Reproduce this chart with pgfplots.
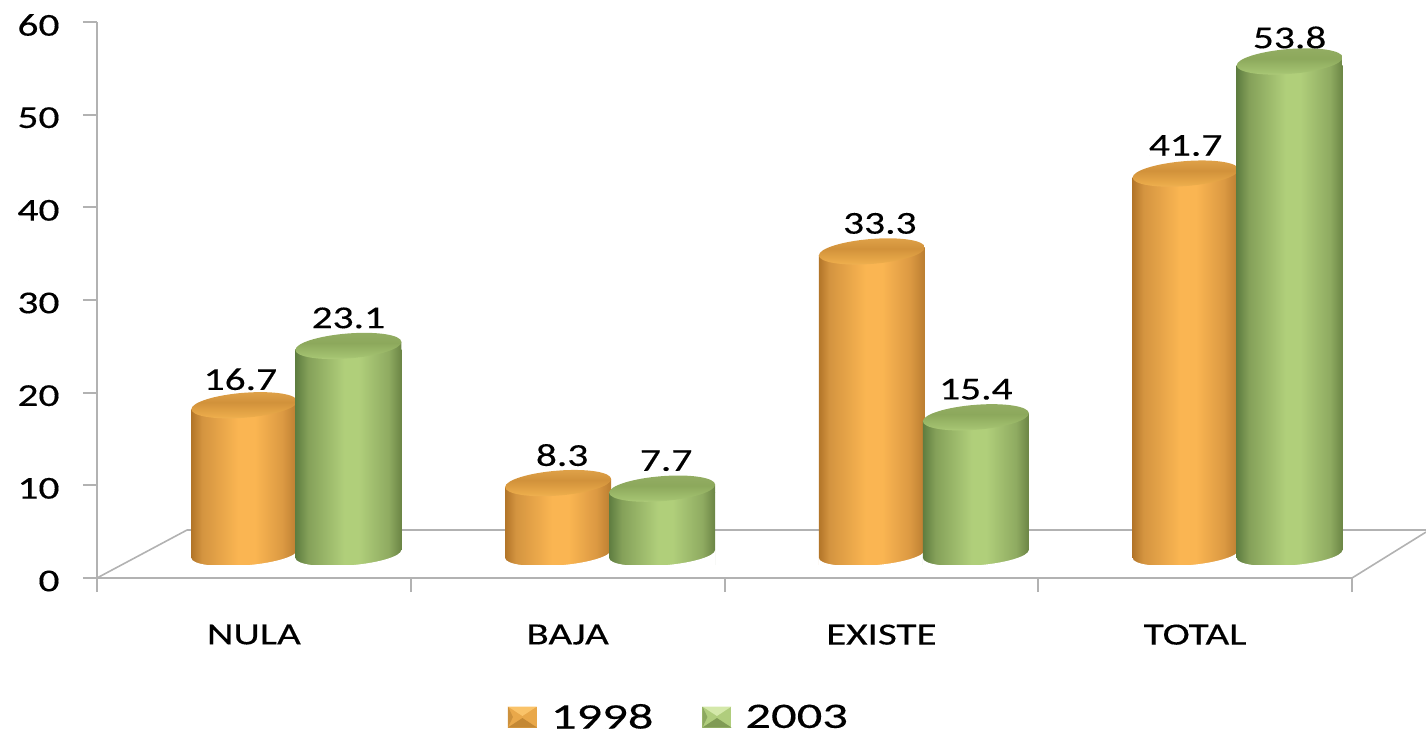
\documentclass[border=0pt]{standalone}
\usepackage{fontspec}
\usepackage{pgfplots}
\pgfplotsset{compat=1.18}
\setmainfont[FakeStretch=1.3,FakeBold=0.3]{Carlito}
\newfontfamily\catfont[FakeStretch=1.33,FakeBold=0.3]{Carlito}
\newfontfamily\legfont[FakeStretch=1.41,FakeBold=0.3]{Carlito}
\definecolor{axgrey}{RGB}{178,178,178}
\pgfdeclarehorizontalshading{barO}{100bp}{rgb(0bp)=(0.70,0.46,0.16);rgb(25bp)=(0.70,0.46,0.16);rgb(30bp)=(0.83,0.58,0.25);rgb(47bp)=(0.98,0.71,0.32);rgb(55bp)=(0.98,0.71,0.32);rgb(68bp)=(0.86,0.60,0.26);rgb(75bp)=(0.73,0.49,0.19);rgb(100bp)=(0.73,0.49,0.19)}
\pgfdeclarehorizontalshading{barG}{100bp}{rgb(0bp)=(0.37,0.49,0.25);rgb(25bp)=(0.37,0.49,0.25);rgb(31bp)=(0.52,0.63,0.35);rgb(48bp)=(0.69,0.81,0.48);rgb(55bp)=(0.69,0.81,0.48);rgb(69bp)=(0.56,0.67,0.38);rgb(75bp)=(0.42,0.52,0.27);rgb(100bp)=(0.42,0.52,0.27)}
\pgfdeclareverticalshading{capO}{100bp}{rgb(0bp)=(0.95,0.71,0.34);rgb(25bp)=(0.95,0.71,0.34);rgb(32bp)=(0.92,0.67,0.29);rgb(55bp)=(0.82,0.57,0.23);rgb(75bp)=(0.88,0.64,0.29);rgb(100bp)=(0.88,0.64,0.29)}
\pgfdeclareverticalshading{capG}{100bp}{rgb(0bp)=(0.71,0.82,0.50);rgb(25bp)=(0.71,0.82,0.50);rgb(32bp)=(0.64,0.76,0.44);rgb(55bp)=(0.55,0.66,0.36);rgb(75bp)=(0.58,0.68,0.39);rgb(100bp)=(0.58,0.68,0.39)}
\newcommand{\capmark}[2]{%
  \pgfpathmoveto{\pgfpoint{-53bp}{0bp}}%
  \pgfpathlineto{\pgfpoint{53bp}{0bp}}%
  \pgfpathlineto{\pgfpoint{53bp}{8bp}}%
  \pgfpathclose
  \pgfshadepath{#1}{0}\pgfusepath{discard}%
  \pgfpathellipse{\pgfpoint{0bp}{4bp}}{\pgfpoint{53bp}{4bp}}{\pgfpoint{0bp}{12.5bp}}%
  \pgfshadepath{#2}{0}\pgfusepath{discard}}
\pgfdeclareplotmark{topO}{\capmark{barO}{capO}}
\pgfdeclareplotmark{topG}{\capmark{barG}{capG}}
\pgfdeclareplotmark{footmask}{%
  \pgfsetfillcolor{white}%
  \pgfpathmoveto{\pgfpoint{53.5bp}{14bp}}%
  \pgfpathlineto{\pgfpoint{53bp}{14bp}}%
  \pgfpathcurveto{\pgfpoint{53bp}{7.65bp}}{\pgfpoint{29.27bp}{0.71bp}}{\pgfpoint{0bp}{-1.5bp}}%
  \pgfpathcurveto{\pgfpoint{-29.27bp}{-3.71bp}}{\pgfpoint{-53bp}{-0.35bp}}{\pgfpoint{-53bp}{6bp}}%
  \pgfpathlineto{\pgfpoint{-53.5bp}{6bp}}%
  \pgfpathlineto{\pgfpoint{-53.5bp}{-4bp}}%
  \pgfpathlineto{\pgfpoint{53.5bp}{-4bp}}%
  \pgfpathclose
  \pgfusepathqfill}
\pgfplotsset{
  barO/.style={forget plot, ybar, bar width=106bp, bar shift=0pt, draw=none, shade, shading=barO,
     xshift=-9.5bp, yshift=14bp, mark=topO, nodes near coords, point meta=y},
  barG/.style={forget plot, ybar, bar width=106bp, bar shift=0pt, draw=none, shade, shading=barG,
     xshift=94.5bp, yshift=14bp, mark=topG, nodes near coords, point meta=y},
  maskO/.style={forget plot, only marks, mark=footmask, xshift=-9.5bp, yshift=14bp},
  maskG/.style={forget plot, only marks, mark=footmask, xshift=94.5bp, yshift=14bp},
}
\begin{document}
\begin{tikzpicture}
\path[use as bounding box] (-97bp,-155bp) rectangle (1329bp,578bp);
\begin{axis}[
  scale only axis, width=1255bp, height=556bp,
  xmin=0, xmax=4, ymin=0, ymax=60,
  clip=false, clip mode=individual,
  axis x line*=bottom, axis y line*=left,
  axis line style={axgrey, line width=2bp},
  tick style={axgrey, line width=2bp},
  major tick length=14bp,
  xtick={0,1,2,3,4}, xticklabels={},
  ytick={0,10,20,30,40,50,60},
  tick align=outside,
  extra x ticks={0.5,1.5,2.5,3.5},
  extra x tick labels={NULA,BAJA,EXISTE,TOTAL},
  extra x tick style={tick style={draw=none}, tick label style={font=\catfont\fontsize{31}{36}\selectfont, yshift=-29bp}},
  yticklabel style={font=\fontsize{32}{38}\selectfont, xshift=-20bp, yshift=-3bp},
  /pgf/number format/assume math mode=true,
  nodes near coords style={font=\fontsize{32}{38}\selectfont, anchor=center, yshift=32bp, inner sep=0pt, text=black,
     /pgf/number format/fixed, /pgf/number format/fixed zerofill, /pgf/number format/precision=1},
  legend style={at={(0.4637,-0.250)}, anchor=center, draw=none, fill=none,
     font=\legfont\fontsize{36}{36}\selectfont, legend columns=2,
     nodes={inner ysep=0pt},
     /tikz/every even column/.append style={column sep=47bp},
     /tikz/every odd column/.append style={column sep=12bp}, inner sep=0pt},
]
\addlegendimage{legend image code/.code={
   \fill[draw=none,fill={rgb,255:red,233;green,168;blue,74}] (0bp,-10.5bp) rectangle (29bp,10.5bp);
   \fill[draw=none,fill={rgb,255:red,250;green,195;blue,105}] (0bp,10.5bp) -- (29bp,10.5bp) -- (14.5bp,1bp) -- cycle;
   \fill[draw=none,fill={rgb,255:red,196;green,136;blue,52}] (0bp,-10.5bp) -- (29bp,-10.5bp) -- (14.5bp,-1bp) -- cycle;
   \fill[draw=none,fill={rgb,255:red,205;green,145;blue,60}] (0bp,-10.5bp) -- (0bp,10.5bp) -- (5bp,0bp) -- cycle;
}}
\addlegendentry{1998}
\addlegendimage{legend image code/.code={
   \fill[draw=none,fill={rgb,255:red,176;green,205;blue,125}] (0bp,-10.5bp) rectangle (29bp,10.5bp);
   \fill[draw=none,fill={rgb,255:red,212;green,232;blue,170}] (0bp,10.5bp) -- (29bp,10.5bp) -- (14.5bp,1bp) -- cycle;
   \fill[draw=none,fill={rgb,255:red,128;green,155;blue,85}] (0bp,-10.5bp) -- (29bp,-10.5bp) -- (14.5bp,-1bp) -- cycle;
   \fill[draw=none,fill={rgb,255:red,140;green,168;blue,95}] (0bp,-10.5bp) -- (0bp,10.5bp) -- (5bp,0bp) -- cycle;
}}
\addlegendentry{2003}
% floor of the 3-D box
\addplot[forget plot, no markers, axgrey, line width=1.6bp] coordinates {(0,0) (0.287,5.18) (4.236,5.18)};
\addplot[forget plot, no markers, axgrey, line width=1.6bp] coordinates {(4,0) (4.236,4.96)};
% NULA
\addplot[barO, every node near coord/.append style={xshift=-4bp, yshift=-2bp}] coordinates {(0.5,16.7)};
\addplot[maskO] coordinates {(0.5,0)};
\addplot[barG] coordinates {(0.5,23.1)};
\addplot[maskG] coordinates {(0.5,0)};
% BAJA
\addplot[barO, every node near coord/.append style={xshift=4bp}] coordinates {(1.5,8.3)};
\addplot[maskO] coordinates {(1.5,0)};
\addplot[barG, every node near coord/.append style={xshift=4bp}] coordinates {(1.5,7.7)};
\addplot[maskG] coordinates {(1.5,0)};
% EXISTE
\addplot[barO, every node near coord/.append style={xshift=8bp}] coordinates {(2.5,33.3)};
\addplot[maskO] coordinates {(2.5,0)};
\addplot[barG] coordinates {(2.5,15.4)};
\addplot[maskG] coordinates {(2.5,0)};
% TOTAL
\addplot[barO] coordinates {(3.5,41.7)};
\addplot[maskO] coordinates {(3.5,0)};
\addplot[barG, every node near coord/.append style={yshift=-4bp}] coordinates {(3.5,53.8)};
\addplot[maskG] coordinates {(3.5,0)};
\end{axis}
\end{tikzpicture}
\end{document}
